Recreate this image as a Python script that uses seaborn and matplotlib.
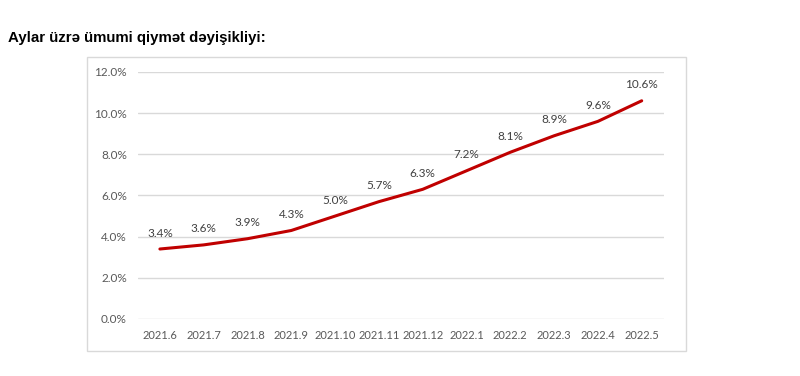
import pandas as pd
import matplotlib.pyplot as plt
import seaborn as sns
from matplotlib.patches import Rectangle
from matplotlib.ticker import PercentFormatter

months = ['2021.6', '2021.7', '2021.8', '2021.9', '2021.10', '2021.11', '2021.12',
          '2022.1', '2022.2', '2022.3', '2022.4', '2022.5']
change = [3.4, 3.6, 3.9, 4.3, 5.0, 5.7, 6.3, 7.2, 8.1, 8.9, 9.6, 10.6]

df = pd.DataFrame({'month': months, 'change': change})

sns.set_style("white")
plt.rcParams['font.family'] = ['Lato', 'DejaVu Sans']

fig = plt.figure(figsize=(8, 3.76), dpi=100)
# light frame around the chart, like the source image
fig.patches.append(Rectangle((0.109, 0.066), 0.749, 0.782, transform=fig.transFigure,
                             fill=False, edgecolor='#d9d9d9', linewidth=1))
ax = fig.add_axes([0.1725, 0.1516, 0.657, 0.657])

sns.lineplot(data=df, x='month', y='change', color='#c00000', linewidth=2.2, ax=ax, sort=False)

# value labels above each point
for i, v in enumerate(change):
    ax.annotate(f'{v:.1f}%', (i, v), xytext=(0, 11.5), textcoords='offset points',
                ha='center', va='center', fontsize=8.5, color='#404040')

ax.set_ylim(0, 12)
ax.set_xlim(-0.5, len(months) - 0.5)
ax.set_yticks(range(0, 13, 2))
ax.yaxis.set_major_formatter(PercentFormatter(decimals=1))
ax.grid(axis='y', color='#d9d9d9', linewidth=1)
ax.set_axisbelow(True)
sns.despine(ax=ax, left=True, bottom=True)
ax.tick_params(axis='y', length=0, labelsize=8.5, labelcolor='#595959', pad=8)
ax.tick_params(axis='x', length=0, labelsize=8, labelcolor='#595959', pad=8)
ax.set_xlabel('')
ax.set_ylabel('')

fig.text(0.01, 0.9, 'Aylar üzrə ümumi qiymət dəyişikliyi:', fontsize=10.8, fontweight='bold',
         family=['Liberation Sans', 'DejaVu Sans'], va='center', color='black')

plt.savefig('out.png', dpi=100)
